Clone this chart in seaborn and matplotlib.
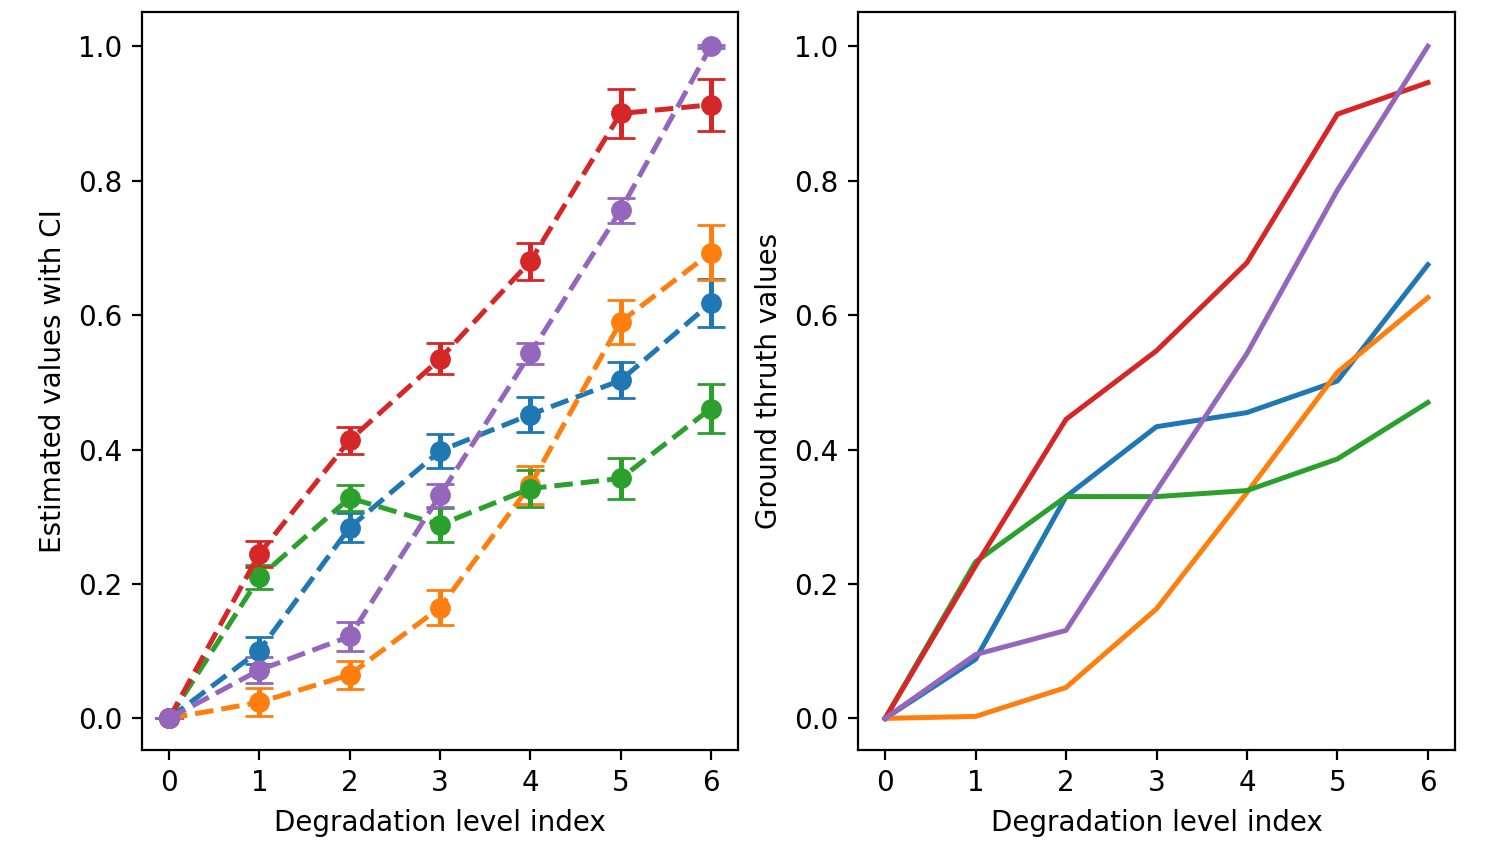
import numpy as np
import pandas as pd
import matplotlib
matplotlib.use("Agg")
import matplotlib.pyplot as plt
import seaborn as sns

levels = [0, 1, 2, 3, 4, 5, 6]
series_names = ["A", "B", "C", "D", "E"]
colors = ["#1f77b4", "#ff7f0e", "#2ca02c", "#d62728", "#9467bd"]

# Estimated values (left panel)
est_A = [0.0, 0.101, 0.284, 0.398, 0.452, 0.503, 0.618]
est_B = [0.0, 0.024, 0.065, 0.165, 0.347, 0.590, 0.693]
est_C = [0.0, 0.210, 0.328, 0.288, 0.342, 0.357, 0.461]
est_D = [0.0, 0.245, 0.414, 0.535, 0.680, 0.900, 0.913]
est_E = [0.0, 0.072, 0.122, 0.332, 0.543, 0.756, 1.0]

# Confidence interval half-widths
ci_A = [0.0, 0.020, 0.021, 0.025, 0.026, 0.027, 0.036]
ci_B = [0.0, 0.021, 0.021, 0.026, 0.028, 0.033, 0.041]
ci_C = [0.0, 0.018, 0.020, 0.025, 0.028, 0.031, 0.036]
ci_D = [0.0, 0.019, 0.020, 0.023, 0.028, 0.036, 0.039]
ci_E = [0.0, 0.019, 0.021, 0.017, 0.016, 0.019, 0.002]

# Ground truth values (right panel)
gt_A = [0.0, 0.088, 0.330, 0.434, 0.455, 0.502, 0.675]
gt_B = [0.0, 0.003, 0.046, 0.163, 0.336, 0.515, 0.626]
gt_C = [0.0, 0.233, 0.330, 0.330, 0.339, 0.386, 0.470]
gt_D = [0.0, 0.227, 0.445, 0.547, 0.678, 0.899, 0.946]
gt_E = [0.0, 0.095, 0.131, 0.339, 0.543, 0.786, 1.0]

est = [est_A, est_B, est_C, est_D, est_E]
cis = [ci_A, ci_B, ci_C, ci_D, ci_E]
gts = [gt_A, gt_B, gt_C, gt_D, gt_E]

df_gt = pd.DataFrame({
    "level": levels * len(series_names),
    "value": sum(gts, []),
    "series": [s for s in series_names for _ in levels],
})

fig = plt.figure(figsize=(7.44, 4.255), dpi=200)
ax1 = fig.add_axes([142/1488, 1-750/851, (738-142)/1488, (750-12)/851])
ax2 = fig.add_axes([858/1488, 1-750/851, (1455-858)/1488, (750-12)/851])

for vals, err, c in zip(est, cis, colors):
    ax1.errorbar(levels, vals, yerr=err, fmt="o--", color=c, capsize=5,
                 linewidth=1.8, markersize=6.5)
ax1.set_xlabel("Degradation level index")
ax1.set_ylabel("Estimated values with CI")

sns.lineplot(data=df_gt, x="level", y="value", hue="series",
             palette=colors, legend=False, ax=ax2, linewidth=1.8)
ax2.set_xlabel("Degradation level index")
ax2.set_ylabel("Ground thruth values")

for ax in (ax1, ax2):
    ax.set_xticks(levels)
    ax.set_yticks([0.0, 0.2, 0.4, 0.6, 0.8, 1.0])
    ax.set_ylim(-0.047, 1.051)
    ax.set_xlim(-0.3, 6.3)

fig.savefig("out.png", dpi=200)
